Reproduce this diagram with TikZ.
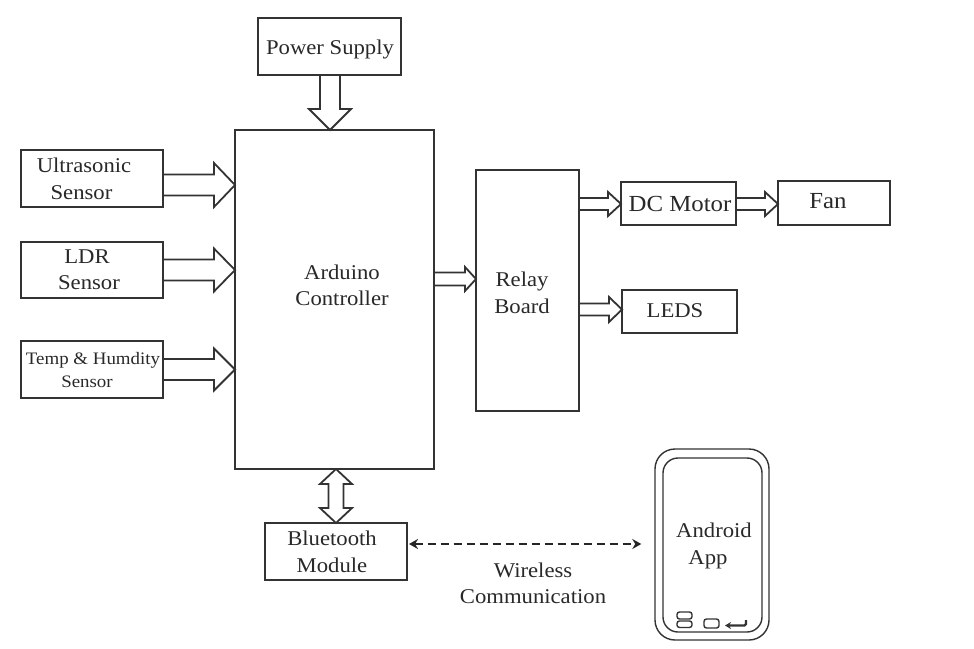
\documentclass[tikz,border=0pt]{standalone}
\usepackage{fontspec}
\setmainfont[FakeStretch=1.08]{Liberation Serif}
\usetikzlibrary{calc,arrows.meta}
\definecolor{ink}{HTML}{333333}
\tikzset{
  bx/.style={draw=ink,line width=1.7pt,fill=white,inner sep=0pt,outer sep=0pt},
  lab/.style={inner sep=0pt,align=center,text=ink!80!black,font=\fontsize{#1}{26.5}\selectfont},
  lab/.default=21,
  harr/.style n args={3}{draw=ink,line width=1.8pt,line join=miter,to path={
    ($(\tikztostart)!#1pt!90:(\tikztotarget)$)
    -- ($($(\tikztotarget)!#3pt!(\tikztostart)$)!#1pt!90:(\tikztotarget)$)
    -- ($($(\tikztotarget)!#3pt!(\tikztostart)$)!#2pt!90:(\tikztotarget)$)
    -- (\tikztotarget)
    -- ($($(\tikztotarget)!#3pt!(\tikztostart)$)!#2pt!-90:(\tikztotarget)$)
    -- ($($(\tikztotarget)!#3pt!(\tikztostart)$)!#1pt!-90:(\tikztotarget)$)
    -- ($(\tikztostart)!#1pt!-90:(\tikztotarget)$)}},
  biarr/.style n args={3}{draw=ink,line width=1.8pt,fill=white,to path={
    (\tikztostart)
    -- ($($(\tikztostart)!#3pt!(\tikztotarget)$)!#2pt!90:(\tikztotarget)$)
    -- ($($(\tikztostart)!#3pt!(\tikztotarget)$)!#1pt!90:(\tikztotarget)$)
    -- ($($(\tikztotarget)!#3pt!(\tikztostart)$)!#1pt!90:(\tikztotarget)$)
    -- ($($(\tikztotarget)!#3pt!(\tikztostart)$)!#2pt!90:(\tikztotarget)$)
    -- (\tikztotarget)
    -- ($($(\tikztotarget)!#3pt!(\tikztostart)$)!#2pt!-90:(\tikztotarget)$)
    -- ($($(\tikztotarget)!#3pt!(\tikztostart)$)!#1pt!-90:(\tikztotarget)$)
    -- ($($(\tikztostart)!#3pt!(\tikztotarget)$)!#1pt!-90:(\tikztotarget)$)
    -- ($($(\tikztostart)!#3pt!(\tikztotarget)$)!#2pt!-90:(\tikztotarget)$)
    -- cycle}},
  phonepart/.style={draw=ink,line width=1.4pt,rounded corners=#1},
}
\newcommand{\bxnode}[5]{\node[bx,minimum width={(#4-#2)*1pt},minimum height={(#5-#3)*1pt}] (#1) at ({(#2+#4)/2},{(#3+#5)/2}) {};}
\begin{document}
\begin{tikzpicture}[x=1pt,y=-1pt]
\useasboundingbox (0,0) rectangle (974,648);
\fill[white] (0,0) rectangle (974,648);
% boxes
\bxnode{power}{258}{18}{401}{75}
\bxnode{ultra}{21}{150}{163}{207}
\bxnode{ldr}{21}{242}{163}{298}
\bxnode{temp}{21}{341}{163}{398}
\bxnode{ard}{235}{130}{434}{469}
\bxnode{relay}{476}{170}{579}{411}
\bxnode{dc}{621}{182}{736}{225}
\bxnode{fan}{778}{181}{890}{225}
\bxnode{leds}{622}{290}{737}{333}
\bxnode{blue}{265}{523}{407}{580}
% phone
\node[draw=ink,line width=1.4pt,rounded corners=20pt,minimum width=114pt,minimum height=191pt,inner sep=0pt] (phone) at (712,544.5) {};
\node[draw=ink,line width=1.4pt,rounded corners=15pt,minimum width=99pt,minimum height=174pt,inner sep=0pt] (screen) at (712.5,545) {};
\node[phonepart=2.5pt,minimum width=15pt,minimum height=7pt,inner sep=0pt] (btna) at (684.5,615.5) {};
\node[phonepart=2.5pt,minimum width=15pt,minimum height=6.5pt,inner sep=0pt] (btnb) at (684.5,624.2) {};
\node[phonepart=2.5pt,minimum width=15pt,minimum height=9pt,inner sep=0pt] (btnc) at (711.5,623.5) {};
\coordinate (reta) at (746,620);
\coordinate (retb) at (725,625.5);
\draw[draw=ink,line width=2.4pt,rounded corners=1.5pt,-{Stealth[length=6pt,width=7pt]}] (reta) -- (reta |- retb) -- (retb);
% text
\node[lab] (powert) at (330,49) {Power Supply};
\node[lab] (ultrat) at (84,179) {Ultrasonic\\\hspace*{-5pt}Sensor};
\node[lab] (ldrt) at (89,269.5) {\hspace*{-4pt}LDR\\Sensor};
\node[lab=17.5] (tempt) at (93,370.5) {Temp \& Humdity\\[-3.5pt]\hspace*{-12pt}Sensor};
\node[lab] (ardt) at (342,285.5) {Arduino\\Controller};
\node[lab] (relayt) at (522,293) {Relay\\Board};
\node[lab=23] (dct) at (680,204) {DC Motor};
\node[lab=23] (fant) at (828,201.5) {Fan};
\node[lab] (ledst) at (675,311) {LEDS};
\node[lab] (bluet) at (332,552) {Bluetooth\\Module};
\node[lab] (wirelesst) at (533,583.5) {Wireless\\Communication};
\node[lab] (androidt) at (714,546) {Android\\\hspace*{-12pt}App};
% block arrows
\draw[harr={10}{21}{21}] (power.south -| 330,0) to (ard.north -| 330,0);
\draw[harr={10.5}{22}{21}] (ultra.east |- 0,185) to (ard.west |- 0,185);
\draw[harr={10.5}{21.5}{21}] (ldr.east |- 0,270) to (ard.west |- 0,270);
\draw[harr={10.5}{21}{21}] (temp.east |- 0,369.5) to (ard.west |- 0,369.5);
\draw[harr={6.5}{12}{11}] (ard.east |- 0,279) to (relay.west |- 0,279);
\draw[harr={6}{12}{13}] (relay.east |- 0,204) to (dc.west |- 0,204);
\draw[harr={6}{12}{13}] (dc.east |- 0,204) to (fan.west |- 0,204);
\draw[harr={6}{12.5}{13}] (relay.east |- 0,309.5) to (leds.west |- 0,309.5);
\draw[biarr={7.5}{16}{15}] (ard.south -| 336,0) to (blue.north -| 336,0);
% wireless link
\draw[draw=black!85,line width=2.4pt,dash pattern=on 8pt off 5pt,{Stealth[length=9pt,width=10pt]}-{Stealth[length=9pt,width=10pt]},shorten <=2pt,shorten >=13pt] (blue.east |- 0,544) -- (phone.west |- 0,544);
\end{tikzpicture}
\end{document}
